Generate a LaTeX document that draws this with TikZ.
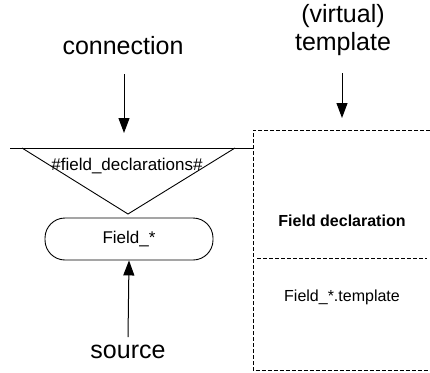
\documentclass[tikz,border=0pt]{standalone}
\usepackage{fontspec}
\setmainfont{Liberation Sans}
\usetikzlibrary{arrows.meta}
\tikzset{
  big/.style={font=\fontsize{25}{28}\selectfont, align=center},
  small/.style={font=\fontsize{16}{19}\selectfont},
  mid/.style={font=\fontsize{17}{20}\selectfont},
  pointer/.style={-{Triangle[length=15pt,width=11pt]}, line width=1pt},
  thin line/.style={line width=0.9pt},
  dash line/.style={line width=0.9pt, dash pattern=on 4pt off 2pt},
}
\begin{document}
\begin{tikzpicture}[x=1pt,y=-1pt]
\useasboundingbox (0,0) rectangle (430,372);

% connection bar and the insertion wedge below it
\coordinate (barL) at (10,148);
\coordinate (barR) at (253,148);
\draw[thin line] (barL) -- (barR);
\coordinate (wedgeL) at (22,148);
\coordinate (wedgeR) at (235,148);
\coordinate (apex) at (128,214);
\draw[thin line] (wedgeL) -- (apex) -- (wedgeR);
\node[mid] (decl) at (127,166) {\#field\_declarations\#};

% labels and arrows above
\node[big] (conn) at (123,46) {connection};
\coordinate (connTip) at (124,133);
\draw[pointer] (124,74) -- (connTip);

\node[big, inner sep=0pt] (virt) at (343,30) {(virtual)\\template};
\coordinate (virtTip) at (342,118);
\draw[pointer] (342,73) -- (virtTip);

% source element
\node[mid, draw, thin line, rounded corners=20pt, minimum width=168pt,
      minimum height=42pt] (field) at (129,239) {Field\_*};
\node[big] (src) at (128,352) {source};
\draw[pointer] (128,337) -- (field.south);

% template box, open on the right
\draw[dash line] (430,130) -- (253,130) -- (253,370.5) -- (430,370.5);
\draw[dash line] (257,258) -- (427,258);
\node[small, font=\fontsize{16}{19}\selectfont\bfseries] (head) at (342,221) {Field declaration};
\node[small] (tmpl) at (342,297) {Field\_*.template};
\end{tikzpicture}
\end{document}
